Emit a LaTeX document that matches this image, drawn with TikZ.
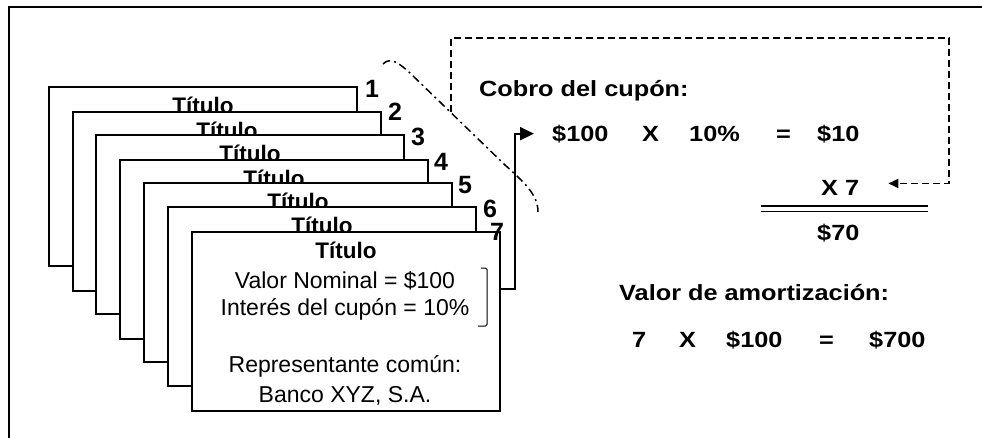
\documentclass[tikz,border=0pt]{standalone}
\usepackage{fontspec}
\setmainfont{Liberation Sans}
\newfontfamily\widebf[FakeStretch=1.15]{Liberation Sans}
\usetikzlibrary{arrows.meta}
\tikzset{
  card/.style={draw, line width=1.6pt, fill=white, minimum width=308pt, minimum height=179pt, inner sep=0pt},
  cardtitle/.style={anchor=base, inner sep=0pt, font=\fontsize{22.5}{26}\selectfont\bfseries},
  cardtext/.style={anchor=base, inner sep=0pt, font=\fontsize{23}{27}\selectfont},
  num/.style={anchor=base, inner sep=0pt, font=\fontsize{25}{30}\selectfont\bfseries},
  sum/.style={anchor=base west, inner sep=0pt, font=\fontsize{22}{26}\selectfont\widebf\bfseries},
  link/.style={line width=2pt, -{Triangle[length=14pt,width=13pt]}},
  back/.style={line width=1.8pt, dash pattern=on 7pt off 4pt, -{Triangle[length=10pt,width=9pt]}},
}
\begin{document}
\begin{tikzpicture}[x=1pt,y=-1pt]
    \useasboundingbox (0,0) rectangle (982,437);
    % frame
    \draw[line width=2pt] (9,445) -- (9,6.5) -- (990,6.5);

    % stack of titles
    \node[card] (c1) at (203,176.5) {};
    \node[cardtitle] (t1) at (203,113) {Título};
    \node[card] (c2) at (227,201.5) {};
    \node[cardtitle] (t2) at (227,138) {Título};
    \node[card] (c3) at (250,224.5) {};
    \node[cardtitle] (t3) at (250,161) {Título};
    \node[card] (c4) at (274,249.5) {};
    \node[cardtitle] (t4) at (274,186) {Título};
    \node[card] (c5) at (298,272.5) {};
    \node[cardtitle] (t5) at (298,209) {Título};
    \node[card] (c6) at (322,296.5) {};
    \node[cardtitle] (t6) at (322,233) {Título};
    \node[card] (c7) at (346,321.5) {};
    \node[cardtitle] (t7) at (346,258) {Título};
    \node[cardtext] (v1) at (345,288) {Valor Nominal = \$100};
    \node[cardtext] (v2) at (345,315) {Interés del cupón = 10\%};
    \node[cardtext] (v3) at (345,372) {Representante común:};
    \node[cardtext] (v4) at (345,402) {Banco XYZ, S.A.};
    \draw[line width=1pt, rounded corners=1.5pt] (481,268) -- (487,268) -- (487,326) -- (478,326);

    \node[num] (n1) at (372,97) {1};
    \node[num] (n2) at (395,120) {2};
    \node[num] (n3) at (418,145) {3};
    \node[num] (n4) at (441,170) {4};
    \node[num] (n5) at (465,193) {5};
    \node[num] (n6) at (490,217) {6};
    \node[num] (n7) at (497,240) {7};

    % coupon
    \node[sum] (head1) at (479,96) {Cobro del cupón:};
    \node[sum] (e1) at (552,141) {\$100};
    \node[sum] (e2) at (642,141) {X};
    \node[sum] (e3) at (689,141) {10\%};
    \node[sum] (e4) at (776,141) {=};
    \node[sum] (e5) at (817,141) {\$10};
    \node[sum] (x7) at (821,195) {X 7};
    \draw[line width=1.6pt] (761,206) -- (928,206);
    \draw[line width=1.6pt] (761,211.5) -- (928,211.5);
    \node[sum] (r1) at (817,240) {\$70};

    % redemption
    \node[sum] (head2) at (619,300) {Valor de amortización:};
    \node[sum] (a1) at (632,347) {7};
    \node[sum] (a2) at (679,347) {X};
    \node[sum] (a3) at (726,347) {\$100};
    \node[sum] (a4) at (819,347) {=};
    \node[sum] (a5) at (869,347) {\$700};

    \draw[link] ([yshift=-58pt]c7.north east) -- ++(14,0) |- ([xshift=-18pt]e1.west);
    \coordinate (tail) at (451,112);
    \draw[back] (tail) |- (949,38) |- ([xshift=29pt,yshift=4pt]x7.east);

    % cut line
    \draw[line width=1.5pt, dash pattern=on 8pt off 4pt on 2pt off 4pt] (383,64) .. controls (390,57) and (398,62) .. (410,73) -- (505,165) .. controls (525,183) and (538,195) .. (538,212);
\end{tikzpicture}
\end{document}
